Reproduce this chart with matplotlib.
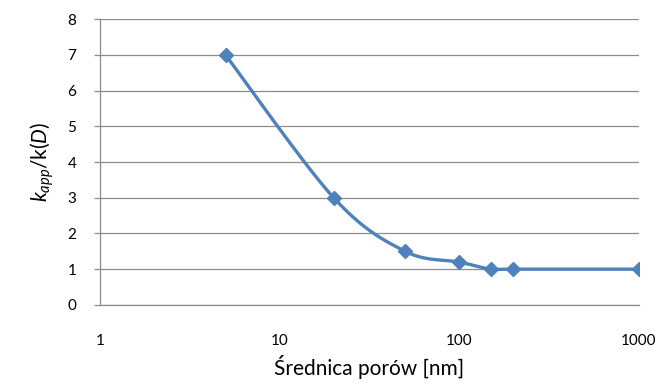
import numpy as np
import matplotlib
matplotlib.use("Agg")
import matplotlib.pyplot as plt
import matplotlib.ticker as mtick

# data
diameter_nm = [5, 20, 50, 100, 150, 200, 1000]
k_ratio = [7.0, 3.0, 1.5, 1.2, 1.0, 1.0, 1.0]
y_ticks = [0, 1, 2, 3, 4, 5, 6, 7, 8]
x_ticks = [1, 10, 100, 1000]

plt.rcParams["font.family"] = ["Lato", "DejaVu Sans"]
plt.rcParams["mathtext.fontset"] = "custom"
plt.rcParams["mathtext.rm"] = "Lato"
plt.rcParams["mathtext.it"] = "Lato:italic"

BLUE = "#4F81BD"
GRID = "#8C8C8C"


def smooth_curve(xs, ys, sx, sy, n=40):
    """Excel-like smoothed line: Catmull-Rom in screen-ish coordinates."""
    u = np.log10(xs) * sx
    v = np.asarray(ys) * sy
    pts = np.column_stack([u, v])
    out = [pts[0]]
    for i in range(len(pts) - 1):
        p0 = pts[i - 1] if i > 0 else pts[i]
        p1, p2 = pts[i], pts[i + 1]
        p3 = pts[i + 2] if i + 2 < len(pts) else pts[i + 1]
        c1 = p1 + (p2 - p0) / 6
        c2 = p2 - (p3 - p1) / 6
        t = np.linspace(0, 1, n)[1:, None]
        seg = ((1 - t) ** 3) * p1 + 3 * ((1 - t) ** 2) * t * c1 \
            + 3 * (1 - t) * t ** 2 * c2 + t ** 3 * p2
        out.extend(seg)
    out = np.array(out)
    return 10 ** (out[:, 0] / sx), out[:, 1] / sy


fig = plt.figure(figsize=(6.62, 3.83), dpi=100)
ax = fig.add_axes([0.151, 0.204, 0.814, 0.746])

# pixel scale: 539 px for 3 decades, 286 px for 8 units
cx, cy = smooth_curve(diameter_nm, k_ratio, 539 / 3, 286 / 8)
ax.plot(cx, cy, color=BLUE, linewidth=2.4, solid_capstyle="round", zorder=3)
ax.plot(diameter_nm, k_ratio, linestyle="none", marker="D", markersize=7,
        color=BLUE, zorder=4)

ax.set_xscale("log")
ax.set_xlim(1, 1000)
ax.set_ylim(0, 8)
ax.set_xticks(x_ticks)
ax.xaxis.set_major_formatter(mtick.FormatStrFormatter("%d"))
ax.xaxis.set_minor_locator(mtick.NullLocator())
ax.set_yticks(y_ticks)

ax.yaxis.grid(True, color=GRID, linewidth=0.9)
ax.set_axisbelow(True)
for side in ["top", "right"]:
    ax.spines[side].set_visible(False)
for side in ["left", "bottom"]:
    ax.spines[side].set_color(GRID)
    ax.spines[side].set_linewidth(0.9)

ax.tick_params(axis="y", length=4, color=GRID, width=0.9, pad=13,
               labelsize=11, labelcolor="black")
ax.tick_params(axis="x", length=0, pad=21, labelsize=11, labelcolor="black")

ax.set_xlabel("Średnica porów [nm]", fontsize=15, labelpad=5)
ax.set_ylabel(r"$k_{app}$/k($D$)", fontsize=15, labelpad=8)

fig.savefig("out.png", dpi=100)
